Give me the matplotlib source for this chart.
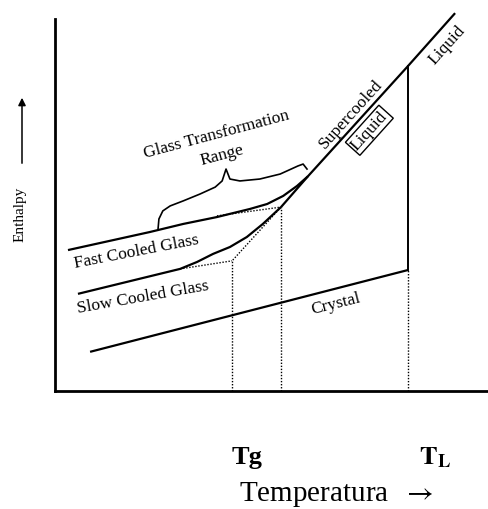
import matplotlib
matplotlib.use("Agg")
import matplotlib.pyplot as plt
from matplotlib.patches import FancyArrowPatch

plt.rcParams['font.family'] = ['Liberation Serif', 'DejaVu Serif']
plt.rcParams['mathtext.fontset'] = 'stix'

# Curves in (temperature, enthalpy) units, both on a 0-100 scale
liquid_T = [52.2, 58.4, 81.5, 92.4]
liquid_H = [47.9, 55.9, 84.6, 98.4]

liquid_extrap_T = [52.2, 40.9]
liquid_extrap_H = [47.9, 33.9]

fast_T = [3.0, 21.9, 29.6, 37.4, 45.0, 49.0, 52.7, 55.9, 58.4]
fast_H = [36.7, 41.4, 43.5, 45.3, 47.4, 48.7, 50.8, 53.4, 55.9]
fast_extrap_T = [37.4, 52.2]
fast_extrap_H = [45.6, 47.9]

slow_T = [5.3, 28.9, 32.8, 36.5, 40.4, 44.3, 48.0, 52.2]
slow_H = [25.3, 31.8, 33.6, 35.7, 37.5, 40.1, 43.5, 47.9]
slow_extrap_T = [28.9, 40.9]
slow_extrap_H = [31.8, 33.9]

crystal_T = [8.1, 81.5]
crystal_H = [10.2, 31.5]

# characteristic temperatures
Tg_slow, Tg_fast, T_L = 40.9, 52.2, 81.5

# brace over the glass transformation range
brace_T = [23.8, 24.0, 24.9, 26.6, 29.6, 33.5, 37.0, 38.6, 39.5, 40.4,
           42.7, 47.3, 52.0, 56.1, 57.3, 58.2]
brace_H = [42.2, 44.8, 46.9, 48.2, 49.5, 51.3, 53.1, 54.7, 57.8, 55.2,
           54.7, 55.2, 56.5, 58.6, 59.1, 57.8]

fig = plt.figure(figsize=(4.88, 5.10), dpi=100)
ax = fig.add_axes([55 / 488, 118 / 510, 433 / 488, 384 / 510])
ax.set_xlim(0, 100)
ax.set_ylim(0, 100)

solid = dict(color='black', lw=1.6, solid_capstyle='butt', solid_joinstyle='round')
dotted = dict(color='black', lw=1.0, linestyle=(0, (1, 1.2)))

ax.plot(liquid_T, liquid_H, **solid)
ax.plot(fast_T, fast_H, **solid)
ax.plot(slow_T, slow_H, **solid)
ax.plot(crystal_T, crystal_H, **solid)
ax.plot([T_L, T_L], [crystal_H[-1], liquid_H[2]], color='black', lw=1.4)
ax.plot(brace_T, brace_H, color='black', lw=1.2, solid_joinstyle='round')

ax.plot(liquid_extrap_T, liquid_extrap_H, **dotted)
ax.plot(fast_extrap_T, fast_extrap_H, **dotted)
ax.plot(slow_extrap_T, slow_extrap_H, **dotted)
ax.plot([Tg_slow, Tg_slow], [0, liquid_extrap_H[-1]], **dotted)
ax.plot([Tg_fast, Tg_fast], [0, liquid_extrap_H[0]], **dotted)
ax.plot([T_L, T_L], [0, crystal_H[-1]], **dotted)

# axes: only left and bottom
for s in ['top', 'right']:
    ax.spines[s].set_visible(False)
ax.spines['left'].set_linewidth(2)
ax.spines['bottom'].set_linewidth(2)
ax.spines['left'].set_bounds(0, 96.9)
ax.set_xticks([])
ax.set_yticks([])

fs = 12.5
ax.text(37.4, 66.9, 'Glass Transformation', rotation=15, fontsize=fs, ha='center', va='center')
ax.text(38.6, 61.7, 'Range', rotation=15, fontsize=fs, ha='center', va='center')
ax.text(18.7, 36.5, 'Fast Cooled Glass', rotation=11, fontsize=fs, ha='center', va='center')
ax.text(20.3, 24.7, 'Slow Cooled Glass', rotation=10, fontsize=fs, ha='center', va='center')
ax.text(64.9, 22.9, 'Crystal', rotation=14, fontsize=fs, ha='center', va='center')
ax.text(68.4, 72.4, 'Supercooled', rotation=48, fontsize=fs, ha='center', va='center')
ax.text(72.6, 67.9, 'Liquid', rotation=48, fontsize=fs, ha='center', va='center',
        bbox=dict(boxstyle='square,pad=0.1', fc='none', ec='black', lw=1.0))
ax.text(90.5, 90.2, 'Liquid', rotation=48, fontsize=fs, ha='center', va='center')

# y label with arrow
fig.text(20 / 488, 1 - 214 / 510, 'Enthalpy', rotation=90, fontsize=11, ha='center', va='center')
fig.patches.append(FancyArrowPatch(
    (22 / 488, 1 - 167 / 510), (22 / 488, 1 - 96 / 510), transform=fig.transFigure,
    arrowstyle='-|>', mutation_scale=11, color='black', lw=1.1))

# bottom labels
fig.text(247 / 488, 1 - 458 / 510, 'Tg', fontsize=19, fontweight='bold', ha='center', va='center')
fig.text(435 / 488, 1 - 458 / 510, r'$\mathbf{T_L}$', fontsize=19, ha='center', va='center')
fig.text(336 / 488, 1 - 495 / 510, r'Temperatura  $\rightarrow$', fontsize=21, ha='center', va='center')

fig.savefig('out.png', dpi=100)
